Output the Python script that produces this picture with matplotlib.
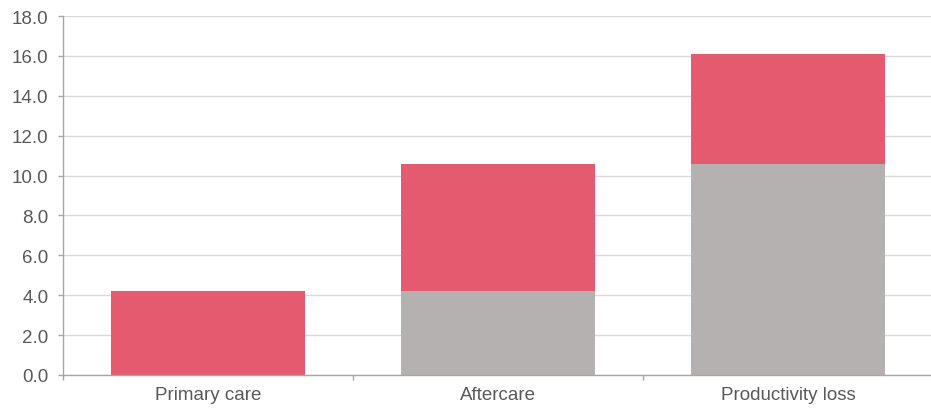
import matplotlib.pyplot as plt
import numpy as np

categories = ["Primary care", "Aftercare", "Productivity loss"]
increments = [4.2, 6.4, 5.5]
bases = [0.0, 4.2, 10.6]

plt.rcParams['font.family'] = ['Liberation Sans', 'DejaVu Sans']

fig = plt.figure(figsize=(9.31, 4.10), dpi=100)
ax = fig.add_axes([63 / 931, 34 / 410, 870 / 931, 359 / 410])

x = np.arange(len(categories))
ax.bar(x, bases, width=0.667, color='#B5B1B1', zorder=2)
ax.bar(x, increments, bottom=bases, width=0.667, color='#E45A6E', zorder=2)

ax.set_xlim(-0.5, len(categories) - 0.5)
ax.set_ylim(0, 18)
ax.set_yticks(np.arange(0, 18.1, 2))
ax.yaxis.set_major_formatter(plt.FuncFormatter(lambda v, _: f'{v:.1f}'))
ax.grid(axis='y', color='#D9D9D9', linewidth=1, zorder=0)

# category labels in the middle, tick marks on the boundaries
ax.set_xticks(x)
ax.set_xticklabels(categories)
ax.set_xticks(np.arange(len(categories)) - 0.5, minor=True)
ax.tick_params(axis='x', which='major', length=0, pad=8, labelsize=13.5, labelcolor='#595959')
ax.tick_params(axis='x', which='minor', length=3.6, color='#A6A6A6', width=1)
ax.tick_params(axis='y', length=3.6, color='#A6A6A6', width=1, labelsize=13.5, labelcolor='#595959', pad=7)

for side in ['top', 'right']:
    ax.spines[side].set_visible(False)
for side in ['left', 'bottom']:
    ax.spines[side].set_color('#A6A6A6')
    ax.spines[side].set_linewidth(1)

fig.savefig('out.png', dpi=100)
